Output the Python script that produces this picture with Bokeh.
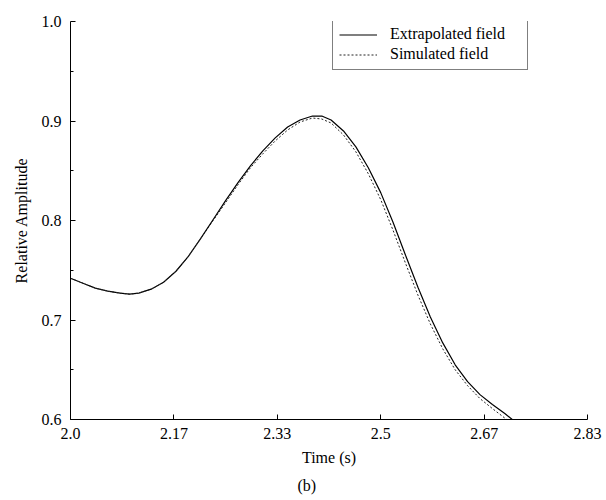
from bokeh.plotting import figure
from bokeh.models import Range1d, FixedTicker, Legend, LegendItem, Title
from bokeh.embed import file_html
from bokeh.resources import INLINE

# ---- data ----
x_tick_values = [2.0, 2.1667, 2.3333, 2.5, 2.6667, 2.8333]
x_tick_labels = ["2.0", "2.17", "2.33", "2.5", "2.67", "2.83"]
y_tick_values = [0.6, 0.7, 0.8, 0.9, 1.0]
y_tick_labels = ["0.6", "0.7", "0.8", "0.9", "1.0"]
y_minor_ticks = [0.65, 0.75, 0.85, 0.95]

extrap_t = [2.000, 2.020, 2.040, 2.060, 2.080, 2.095, 2.110, 2.130, 2.150, 2.170,
            2.190, 2.210, 2.230, 2.250, 2.270, 2.290, 2.310, 2.330, 2.350, 2.370,
            2.390, 2.405, 2.420, 2.440, 2.460, 2.480, 2.500, 2.520, 2.540, 2.560,
            2.580, 2.600, 2.620, 2.640, 2.660, 2.680, 2.700, 2.712]
extrap_v = [0.742, 0.737, 0.732, 0.729, 0.727, 0.726, 0.727, 0.731, 0.738, 0.749,
            0.764, 0.782, 0.801, 0.820, 0.838, 0.855, 0.870, 0.883, 0.894, 0.901,
            0.905, 0.905, 0.901, 0.890, 0.874, 0.853, 0.828, 0.798, 0.765, 0.733,
            0.703, 0.677, 0.655, 0.638, 0.625, 0.615, 0.606, 0.600]

sim_t = [2.000, 2.020, 2.040, 2.060, 2.080, 2.095, 2.110, 2.130, 2.150, 2.170,
         2.190, 2.210, 2.230, 2.250, 2.270, 2.290, 2.310, 2.330, 2.350, 2.370,
         2.390, 2.405, 2.420, 2.440, 2.460, 2.480, 2.500, 2.520, 2.540, 2.560,
         2.580, 2.600, 2.620, 2.640, 2.660, 2.680, 2.703]
sim_v = [0.742, 0.737, 0.732, 0.729, 0.727, 0.726, 0.727, 0.731, 0.738, 0.749,
         0.764, 0.782, 0.800, 0.818, 0.836, 0.853, 0.867, 0.880, 0.891, 0.899,
         0.903, 0.902, 0.898, 0.886, 0.869, 0.847, 0.821, 0.790, 0.757, 0.725,
         0.696, 0.671, 0.650, 0.634, 0.621, 0.611, 0.600]

FONT = "Liberation Serif"

p = figure(width=606, height=500, output_backend="svg", toolbar_location=None,
           x_range=Range1d(2.0, 2.8333), y_range=Range1d(0.6, 1.0),
           min_border_left=70, min_border_right=19, min_border_top=21,
           min_border_bottom=80)
p.outline_line_color = None
p.xgrid.visible = False
p.ygrid.visible = False
p.background_fill_color = "white"
p.border_fill_color = "white"

r1 = p.line(extrap_t, extrap_v, line_color="black", line_width=1.2)
r2 = p.line(sim_t, sim_v, line_color="#222222", line_width=1.0, line_dash="2 2")

# x axis
p.xaxis.ticker = FixedTicker(ticks=x_tick_values)
p.xaxis.major_label_overrides = dict(zip(x_tick_values, x_tick_labels))
p.xaxis.major_tick_in = 5
p.xaxis.major_tick_out = 0
p.xaxis.minor_tick_line_color = None
p.xaxis.major_label_standoff = 8
p.xaxis.axis_label = "Time (s)"
p.xaxis.axis_label_standoff = 7

# y axis
p.yaxis.ticker = FixedTicker(ticks=y_tick_values, minor_ticks=y_minor_ticks)
p.yaxis.major_label_overrides = dict(zip(y_tick_values, y_tick_labels))
p.yaxis.major_tick_in = 5
p.yaxis.major_tick_out = 0
p.yaxis.minor_tick_in = 3
p.yaxis.minor_tick_out = 0
p.yaxis.minor_tick_line_color = "black"
p.yaxis.major_label_standoff = 9
p.yaxis.axis_label = "Relative Amplitude"
p.yaxis.axis_label_standoff = 9

for ax in (p.xaxis[0], p.yaxis[0]):
    ax.axis_line_color = "black"
    ax.major_tick_line_color = "black"
    ax.major_label_text_font = FONT
    ax.major_label_text_font_size = "16px"
    ax.major_label_text_color = "black"
    ax.axis_label_text_font = FONT
    ax.axis_label_text_font_style = "normal"
    ax.axis_label_text_color = "black"
    ax.axis_label_text_font_size = "16px"

legend = Legend(items=[LegendItem(label="Extrapolated field", renderers=[r1]),
                       LegendItem(label="Simulated field", renderers=[r2])],
                location=(262, 349))
legend.label_text_font = FONT
legend.label_text_font_size = "16px"
legend.label_text_color = "black"
legend.border_line_color = "black"
legend.border_line_width = 1
legend.background_fill_alpha = 1.0
legend.padding = 6
legend.margin = 0
legend.spacing = 2
legend.glyph_width = 38
legend.glyph_height = 17
legend.label_height = 17
legend.label_width = 131
legend.label_standoff = 13
p.add_layout(legend, "center")

# caption under the axis title
cap = Title(text="(b)", align="left", offset=227, standoff=13, text_font=FONT,
            text_font_size="16px", text_font_style="normal", text_color="black")
p.add_layout(cap, "below")

open("out.html", "w").write(file_html(p, INLINE))
